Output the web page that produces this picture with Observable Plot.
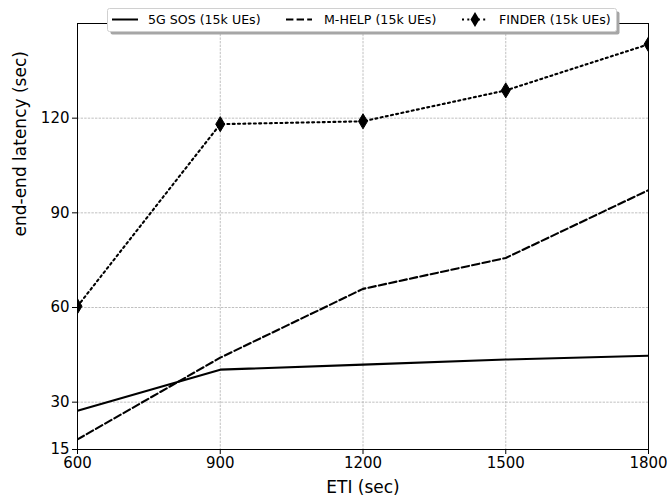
<!DOCTYPE html>
<html>
<head>
<meta charset="utf-8">
<script src="https://cdn.jsdelivr.net/npm/d3@7"></script>
<script src="https://cdn.jsdelivr.net/npm/@observablehq/plot@0.6"></script>
<style>
  html, body { margin: 0; padding: 0; background: #fff; }
  #wrap { position: relative; width: 667px; height: 499px; font-family: "DejaVu Sans", sans-serif; }
  #legend { position: absolute; left: 0; top: 0; }
</style>
</head>
<body>
<div id="wrap">
  <div id="chart"></div>
  <svg id="legend" width="667" height="40" xmlns="http://www.w3.org/2000/svg"></svg>
</div>
<script>
const eti = [600, 900, 1200, 1500, 1800];
const sos = [27.3, 40.3, 41.9, 43.5, 44.7];
const mhelp = [18.2, 44.1, 65.9, 75.7, 97.2];
const finder = [60.4, 118.1, 119.0, 128.8, 143.4];
const seriesNames = ["5G SOS (15k UEs)", "M-HELP (15k UEs)", "FINDER (15k UEs)"];
const xTicks = [600, 900, 1200, 1500, 1800];
const yTicks = [15, 30, 60, 90, 120];

const rows = (vals) => eti.map((x, i) => ({x, y: vals[i]}));

const thinDiamond = {
  draw(ctx, size) {
    const w = 4.5, h = 7.5;
    ctx.moveTo(0, -h); ctx.lineTo(w, 0); ctx.lineTo(0, h); ctx.lineTo(-w, 0); ctx.closePath();
  }
};

const plot = Plot.plot({
  width: 667,
  height: 499,
  marginLeft: 77,
  marginRight: 19,
  marginTop: 23,
  marginBottom: 50,
  style: { fontFamily: "DejaVu Sans, sans-serif", fontSize: "15px", background: "#fff", color: "#000" },
  x: { domain: [600, 1800], label: null },
  y: { domain: [15, 150], label: null },
  marks: [
    Plot.gridY(yTicks.filter(t => t > 15), { stroke: "#b0b0b0", strokeOpacity: 1, strokeWidth: 0.8, strokeDasharray: "2.4,1.2" }),
    Plot.gridX(xTicks.filter(t => t > 600 && t < 1800), { stroke: "#b0b0b0", strokeOpacity: 1, strokeWidth: 0.8, strokeDasharray: "2.4,1.2" }),
    Plot.line(rows(sos), { x: "x", y: "y", stroke: "#000", strokeWidth: 2.1, clip: true }),
    Plot.line(rows(mhelp), { x: "x", y: "y", stroke: "#000", strokeWidth: 2.1, strokeDasharray: "7.4,3.2", clip: true }),
    Plot.line(rows(finder), { x: "x", y: "y", stroke: "#000", strokeWidth: 2.1, strokeDasharray: "2,3.3", clip: true }),
    Plot.dot(rows(finder), { x: "x", y: "y", symbol: thinDiamond, r: 5, fill: "#000", stroke: "#000", strokeWidth: 1, clip: true }),
    Plot.frame({ stroke: "#000", strokeWidth: 1 }),
    Plot.axisX({ ticks: xTicks, tickSize: 5, tickPadding: 3, fontSize: 15, tickFormat: d => String(d), label: null }),
    Plot.axisY({ ticks: yTicks, tickSize: 5, tickPadding: 3, fontSize: 15, tickFormat: d => String(d), label: null }),
    Plot.text(["ETI (sec)"], { frameAnchor: "bottom", dy: 43, fontSize: 17 }),
    Plot.text(["end-end latency (sec)"], { frameAnchor: "left", dx: -57, rotate: -90, fontSize: 17 })
  ]
});
document.getElementById("chart").appendChild(plot);

// legend (drawn in page coordinates)
const ns = "http://www.w3.org/2000/svg";
const lg = document.getElementById("legend");
function el(tag, attrs) {
  const e = document.createElementNS(ns, tag);
  for (const k in attrs) e.setAttribute(k, attrs[k]);
  lg.appendChild(e);
  return e;
}
el("rect", { x: 110.5, y: 11.5, width: 509, height: 23, rx: 2, fill: "#a6a6a6" });
el("rect", { x: 107.5, y: 8.5, width: 509, height: 23, rx: 2, fill: "#fff", stroke: "#d0d0d0", "stroke-width": 1 });
const items = [
  { name: seriesNames[0], x1: 112, x2: 138, dash: null, marker: false, tx: 148 },
  { name: seriesNames[1], x1: 286, x2: 312, dash: "7.4,3.2", marker: false, tx: 324 },
  { name: seriesNames[2], x1: 462, x2: 488, dash: "2,3.3", marker: true, tx: 499 }
];
const ly = 19.5;
for (const it of items) {
  const a = { x1: it.x1, x2: it.x2, y1: ly, y2: ly, stroke: "#000", "stroke-width": 2 };
  if (it.dash) a["stroke-dasharray"] = it.dash;
  el("line", a);
  if (it.marker) {
    const cx = (it.x1 + it.x2) / 2;
    el("path", { d: `M${cx},${ly - 7.5}L${cx + 4.5},${ly}L${cx},${ly + 7.5}L${cx - 4.5},${ly}Z`, fill: "#000" });
  }
  const t = el("text", { x: it.tx, y: ly + 4.5, "font-family": "DejaVu Sans, sans-serif", "font-size": "12.6px", fill: "#000" });
  t.textContent = it.name;
}
</script>
</body>
</html>
